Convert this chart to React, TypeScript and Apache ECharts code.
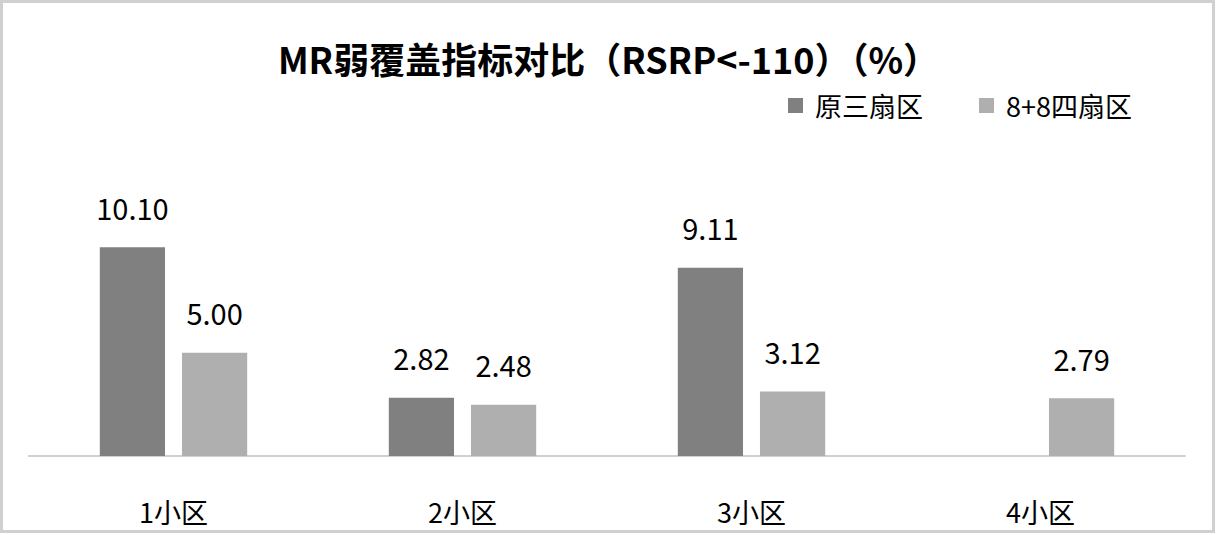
import React, { useEffect, useRef } from "react";
import * as echarts from "echarts";

const categories = ["1小区", "2小区", "3小区", "4小区"];
const seriesNames = ["原三扇区", "8+8四扇区"];
const original3Sector = [10.10, 2.82, 9.11, null];
const new4Sector = [5.00, 2.48, 3.12, 2.79];
const titleText = "MR弱覆盖指标对比（RSRP<-110）（%）";

const FONT = "'Noto Sans CJK SC', 'Noto Sans', sans-serif";

export default function App() {
  const ref = useRef<HTMLDivElement>(null);
  useEffect(() => {
    const chart = echarts.init(ref.current!, undefined, { renderer: "svg" });
    chart.setOption({
      animation: false,
      backgroundColor: "#ffffff",
      title: {
        text: titleText,
        left: "center",
        top: 35,
        textStyle: { fontFamily: FONT, fontSize: 36, fontWeight: "bold", color: "#000" },
      },
      legend: {
        left: 783,
        top: 87,
        itemWidth: 15,
        itemHeight: 15,
        itemGap: 56,
        icon: "rect",
        textStyle: { fontFamily: FONT, fontSize: 27, color: "#000", padding: [0, 0, 0, 7] },
        data: seriesNames,
      },
      graphic: [
        {
          type: "rect",
          shape: { x: 1.5, y: 1.5, width: 1212, height: 530 },
          style: { fill: "none", stroke: "#d0d0d0", lineWidth: 3 },
          silent: true,
        },
      ],
      grid: { left: 29, right: 32, top: 208, bottom: 79 },
      xAxis: {
        type: "category",
        data: categories,
        axisLine: { lineStyle: { color: "#d0d0d0", width: 2 } },
        axisTick: { show: false },
        axisLabel: { fontFamily: FONT, fontSize: 27, color: "#000", margin: 42 },
      },
      yAxis: {
        type: "value",
        min: 0,
        max: 12,
        show: false,
        splitLine: { show: false },
      },
      series: [
        {
          name: seriesNames[0],
          type: "bar",
          data: original3Sector,
          barGap: "26%",
          barCategoryGap: "49%",
          itemStyle: { color: "#808080" },
          label: {
            show: true,
            position: "top",
            distance: 26,
            fontFamily: FONT,
            fontSize: 29,
            color: "#000",
            formatter: (p: any) => (p.value == null ? "" : Number(p.value).toFixed(2)),
          },
        },
        {
          name: seriesNames[1],
          type: "bar",
          data: new4Sector,
          itemStyle: { color: "#afafaf" },
          label: {
            show: true,
            position: "top",
            distance: 26,
            fontFamily: FONT,
            fontSize: 29,
            color: "#000",
            formatter: (p: any) => Number(p.value).toFixed(2),
          },
        },
      ],
    });
    return () => chart.dispose();
  }, []);
  return (
    <div
      ref={ref}
      style={{ position: "fixed", left: 0, top: 0, width: 1217, height: 535 }}
    />
  );
}
